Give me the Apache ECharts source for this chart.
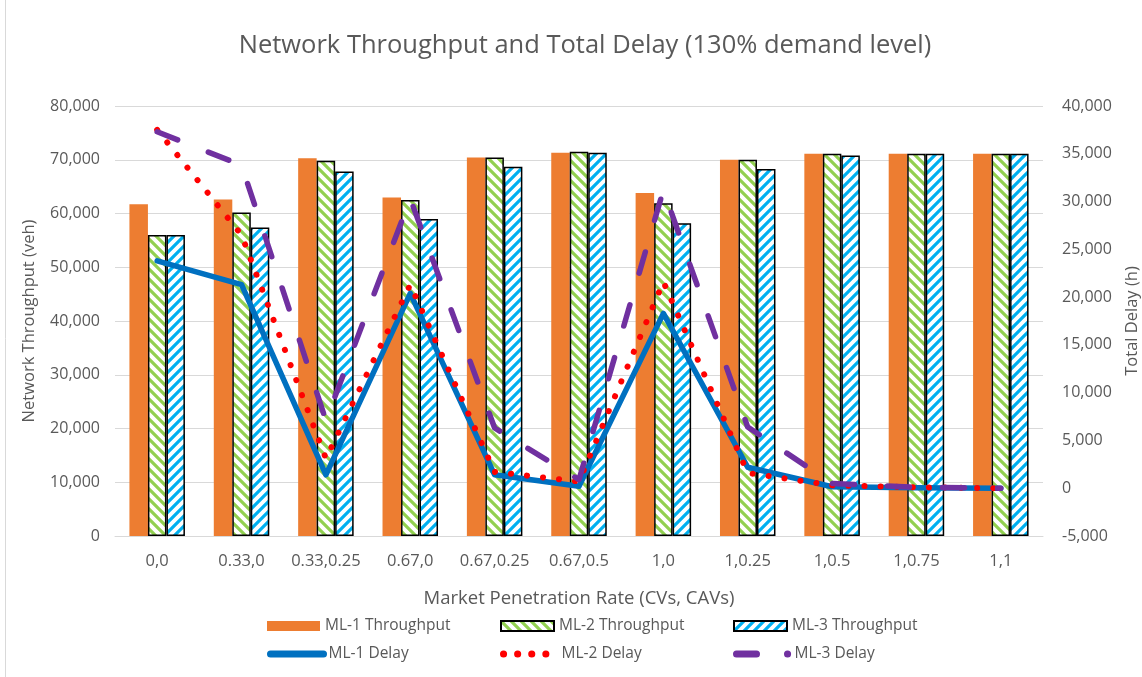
<!DOCTYPE html>
<html>
<head>
<meta charset="utf-8">
<title>Network Throughput and Total Delay</title>
<script src="https://cdn.jsdelivr.net/npm/echarts@6/dist/echarts.min.js"></script>
<style>
  html, body { margin: 0; padding: 0; background: #ffffff; }
  #chart { width: 1142px; height: 677px; }
</style>
</head>
<body>
<div id="chart"></div>
<script>
// Market penetration scenarios (CVs, CAVs)
const categories = ['0,0', '0.33,0', '0.33,0.25', '0.67,0', '0.67,0.25', '0.67,0.5', '1,0', '1,0.25', '1,0.5', '1,0.75', '1,1'];

// Network throughput (veh)
const ml1Throughput = [61700, 62600, 70300, 63000, 70400, 71300, 63800, 70000, 71100, 71100, 71100];
const ml2Throughput = [56000, 60200, 69800, 62500, 70400, 71500, 61900, 70000, 71100, 71100, 71100];
const ml3Throughput = [56000, 57400, 67800, 59000, 68700, 71300, 58200, 68300, 70800, 71100, 71100];

// Total delay (h)
const ml1Delay = [23800, 21300, 1400, 20400, 1400, 200, 18300, 2200, 150, 50, 0];
const ml2Delay = [37500, 26500, 3100, 21300, 1700, 700, 21600, 1600, 300, 100, 0];
const ml3Delay = [37300, 33800, 7100, 30300, 6300, 900, 31200, 6400, 500, 100, 0];

const FONT = '"Open Sans", Lato, sans-serif';
const TEXT = '#595959';
const GRID = '#D9D9D9';

// Diagonal hatch tile: white ground with coloured stripes
function hatch(color, upward) {
  const s = 10;
  const c = document.createElement('canvas');
  c.width = s; c.height = s;
  const g = c.getContext('2d');
  g.fillStyle = '#ffffff';
  g.fillRect(0, 0, s, s);
  g.strokeStyle = color;
  g.lineWidth = 3.2;
  g.beginPath();
  if (upward) {
    g.moveTo(-2, s + 2); g.lineTo(s + 2, -2);
    g.moveTo(-2, 2); g.lineTo(2, -2);
    g.moveTo(s - 2, s + 2); g.lineTo(s + 2, s - 2);
  } else {
    g.moveTo(-2, -2); g.lineTo(s + 2, s + 2);
    g.moveTo(s - 2, -2); g.lineTo(s + 2, 2);
    g.moveTo(-2, s - 2); g.lineTo(2, s + 2);
  }
  g.stroke();
  return { image: c, repeat: 'repeat' };
}

const greenHatch = hatch('#92D050', false);
const blueHatch = hatch('#00B0F0', true);

const fmt = v => Number(v).toLocaleString('en-US');

const legendText = { fontFamily: FONT, fontSize: 15.5, color: TEXT };
const legendColumns = [262, 495, 728];

// One legend block per entry so the two rows line up in columns
function legendEntry(item, col, row) {
  const isBar = row === 0;
  return {
    left: legendColumns[col],
    top: isBar ? 613 : 641,
    itemWidth: 53,
    itemHeight: isBar ? 10 : 14,
    itemGap: 0,
    icon: isBar ? 'rect' : undefined,
    textStyle: legendText,
    data: [item]
  };
}

const chart = echarts.init(document.getElementById('chart'), null, { renderer: 'canvas' });

chart.setOption({
  backgroundColor: '#ffffff',
  animation: false,
  textStyle: { fontFamily: FONT },
  title: {
    text: 'Network Throughput and Total Delay (130% demand level)',
    left: 580,
    textAlign: 'center',
    top: 28,
    textStyle: { fontFamily: FONT, fontSize: 25.5, fontWeight: 'normal', color: TEXT }
  },
  graphic: [{
    type: 'line',
    shape: { x1: 5.5, y1: 0, x2: 5.5, y2: 677 },
    style: { stroke: GRID, lineWidth: 1 },
    silent: true
  }],
  grid: { left: 115, right: 99, top: 106, bottom: 141, containLabel: false, outerBoundsMode: 'none' },
  legend: [
    legendEntry('ML-1 Throughput', 0, 0),
    legendEntry('ML-2 Throughput', 1, 0),
    legendEntry('ML-3 Throughput', 2, 0),
    legendEntry({ name: 'ML-1 Delay', itemStyle: { opacity: 0 }, lineStyle: { width: 7 } }, 0, 1),
    legendEntry({ name: 'ML-2 Delay', itemStyle: { opacity: 0 }, lineStyle: { width: 7, type: [0.1, 14] } }, 1, 1),
    legendEntry({ name: 'ML-3 Delay', itemStyle: { opacity: 0 }, lineStyle: { width: 7, type: [20, 31, 0.1, 40] } }, 2, 1)
  ],
  xAxis: {
    type: 'category',
    data: categories,
    name: 'Market Penetration Rate (CVs, CAVs)',
    nameLocation: 'middle',
    nameGap: 53,
    nameTextStyle: { fontFamily: FONT, fontSize: 18.5, color: TEXT },
    axisLine: { show: true, lineStyle: { color: GRID, width: 1 } },
    axisTick: { show: false },
    axisLabel: { fontFamily: FONT, fontSize: 16.5, color: TEXT, margin: 17, interval: 0 },
    splitLine: { show: false }
  },
  yAxis: [{
    type: 'value',
    min: 0,
    max: 80000,
    interval: 10000,
    name: 'Network Throughput (veh)',
    nameLocation: 'middle',
    nameRotate: 90,
    nameGap: 77,
    nameTextStyle: { fontFamily: FONT, fontSize: 16.5, color: TEXT },
    axisLine: { show: false },
    axisTick: { show: false },
    axisLabel: { fontFamily: FONT, fontSize: 16, color: TEXT, margin: 15, formatter: fmt },
    splitLine: { show: true, lineStyle: { color: GRID, width: 1 } }
  }, {
    type: 'value',
    min: -5000,
    max: 40000,
    interval: 5000,
    name: 'Total Delay (h)',
    nameLocation: 'middle',
    nameRotate: 90,
    nameGap: 81,
    nameTextStyle: { fontFamily: FONT, fontSize: 16.5, color: TEXT },
    axisLine: { show: false },
    axisTick: { show: false },
    axisLabel: { fontFamily: FONT, fontSize: 16, color: TEXT, margin: 19, formatter: fmt },
    splitLine: { show: false }
  }],
  series: [{
    name: 'ML-1 Throughput',
    type: 'bar',
    yAxisIndex: 0,
    data: ml1Throughput,
    barWidth: 18.5,
    barGap: '0%',
    itemStyle: { color: '#ED7D31' }
  }, {
    name: 'ML-2 Throughput',
    type: 'bar',
    yAxisIndex: 0,
    data: ml2Throughput,
    barWidth: 18.5,
    barGap: '0%',
    itemStyle: { color: greenHatch, borderColor: '#000000', borderWidth: 1.5 }
  }, {
    name: 'ML-3 Throughput',
    type: 'bar',
    yAxisIndex: 0,
    data: ml3Throughput,
    barWidth: 18.5,
    barGap: '0%',
    itemStyle: { color: blueHatch, borderColor: '#000000', borderWidth: 1.5 }
  }, {
    name: 'ML-1 Delay',
    type: 'line',
    yAxisIndex: 1,
    data: ml1Delay,
    symbol: 'none',
    itemStyle: { color: '#0070C0' },
    lineStyle: { color: '#0070C0', width: 5.5, cap: 'round', join: 'round' }
  }, {
    name: 'ML-2 Delay',
    type: 'line',
    yAxisIndex: 1,
    data: ml2Delay,
    symbol: 'none',
    itemStyle: { color: '#FF0000' },
    lineStyle: { color: '#FF0000', width: 6, type: [0.1, 16], cap: 'round', join: 'round' }
  }, {
    name: 'ML-3 Delay',
    type: 'line',
    yAxisIndex: 1,
    data: ml3Delay,
    symbol: 'none',
    itemStyle: { color: '#7030A0' },
    lineStyle: { color: '#7030A0', width: 5.5, type: [22, 33], cap: 'round', join: 'round' }
  }]
});
</script>
</body>
</html>
